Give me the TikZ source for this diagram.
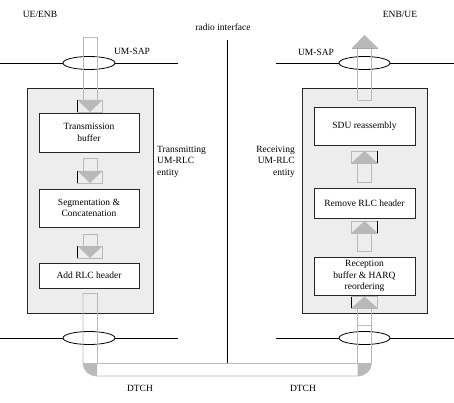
\documentclass[tikz,border=0pt]{standalone}
\usepackage{fontspec}
\setmainfont{Liberation Serif}
\usetikzlibrary{shapes.geometric}
\begin{document}
\begin{tikzpicture}[x=1pt,y=-1pt,
  txt/.style={font=\fontsize{9.5}{11.5}\selectfont, inner sep=0pt, align=center},
  outerbox/.style={draw=black!85, line width=0.9pt, fill=gray!14},
  procbox/.style={draw=black!85, line width=0.95pt, fill=white, txt, minimum width=100pt},
  sapline/.style={draw=black, line width=0.7pt},
  sapell/.style={draw=black, line width=0.8pt, fill=white, ellipse, inner sep=0pt},
  pipe/.style={draw=gray!55, line width=0.7pt},
  headfill/.style={fill=gray!55},
]
\useasboundingbox (0,0) rectangle (454,403);
\newcommand\dnarr[4]{%
  \draw[pipe] ({#1-7},#3) -- ({#1-7},#2) -- ({#1+7},#2) -- ({#1+7},#3);
  \draw[pipe] ({#1-12.5},#3) rectangle ({#1+12.5},#4);
  \fill[headfill] ({#1-12.5},#3) -- ({#1+12.5},#3) -- (#1,#4) -- cycle;
  \draw[black,line width=0.8pt] ({#1-12.5},#3) -- ({#1-12.5},#4);}
\newcommand\uparr[5]{%
  \draw[pipe] ({#1-7},#3) -- ({#1-7},#2) -- ({#1+7},#2) -- ({#1+7},#3);
  \draw[pipe] ({#1-13},#3) rectangle ({#1+13},#4);
  \fill[headfill] ({#1-13},#3) -- ({#1+13},#3) -- (#1,#4) -- cycle;
  \draw[black,line width=0.8pt] ({#1+#5*13},#3) -- ({#1+#5*13},#4);}

% headings
\node[txt] (ue) at (40,14) {UE/ENB};
\node[txt] (enb) at (400,14) {ENB/UE};
\node[txt] (radio) at (223,27) {radio interface};
\coordinate (rtop) at (227,40);
\coordinate (rbot) at (227,363);
\draw[black, line width=0.7pt] (rtop) -- (rbot);

% outer boxes
\draw[outerbox] (27,88) rectangle (153,313);
\draw[outerbox] (302,88) rectangle (427,313);

% SAP lines
\coordinate (l1a) at (0,63);   \coordinate (l1b) at (178,63);
\coordinate (r1a) at (276,63); \coordinate (r1b) at (454,63);
\coordinate (l2a) at (0,338);  \coordinate (l2b) at (178,338);
\coordinate (r2a) at (276,338);\coordinate (r2b) at (454,338);
\draw[sapline] (l1a) -- (l1b);
\draw[sapline] (r1a) -- (r1b);
\draw[sapline] (l2a) -- (l2b);
\draw[sapline] (r2a) -- (r2b);
\node[sapell, minimum width=52pt, minimum height=13pt] (e1) at (89,63) {};
\node[sapell, minimum width=51pt, minimum height=13pt] (e2) at (364.5,63) {};
\node[sapell, minimum width=52pt, minimum height=13pt] (e3) at (89,338) {};
\node[sapell, minimum width=51pt, minimum height=13pt] (e4) at (364.5,338) {};
\node[txt] (sap1) at (132,51) {UM-SAP};
\node[txt] (sap2) at (316,52) {UM-SAP};

% processing boxes
\node[procbox, minimum height=39pt] (tb) at (89,132.5) {Transmission\\buffer};
\node[procbox, minimum height=38pt] (seg) at (89,208) {Segmentation \&\\Concatenation};
\node[procbox, minimum height=25pt] (add) at (89,275.5) {Add RLC header};
\node[procbox, minimum width=101pt, minimum height=38pt] (sdu) at (364.5,126) {SDU reassembly};
\node[procbox, minimum width=101pt, minimum height=30pt] (rem) at (364.5,203) {Remove RLC header};
\node[procbox, minimum width=101pt, minimum height=38pt] (rec) at (364.5,276) {Reception\\buffer \& HARQ\\reordering};

% entity labels
\node[txt, anchor=north west, align=left] (tx) at (157,146) {Transmitting\\UM-RLC\\entity};
\node[txt, anchor=north east, align=right] (rx) at (295,146) {Receiving\\UM-RLC\\entity};

% block arrows (left, down)
\dnarr{90}{37}{100}{112}
\dnarr{90}{158}{171}{183}
\dnarr{90}{234}{246}{258}
% block arrows (right, up)
\uparr{364.5}{182}{163}{151}{1}
\uparr{364.5}{251}{233}{221}{1}
\uparr{364.5}{325}{308}{296.5}{-1}
% top output arrow
\draw[pipe] (357.5,100) -- (357.5,48) (371.5,48) -- (371.5,100) -- (357.5,100);
\fill[headfill] (352,48) -- (378,48) -- (364.5,35) -- cycle;
\draw[gray!70, line width=0.6pt] (352,48) -- (378,48);

% DTCH pipe
\fill[headfill] (83,363) -- (97,363) -- (97,376) arc[start angle=90, end angle=180, x radius=14, y radius=13] -- cycle;
\fill[headfill] (357.5,363) -- (371.5,363) arc[start angle=0, end angle=90, x radius=14, y radius=13] -- cycle;
\draw[pipe] (83,293) -- (97,293);
\draw[pipe] (83,293) -- (83,363) arc[start angle=180, end angle=90, x radius=14, y radius=13] -- (357.5,376)
  arc[start angle=90, end angle=0, x radius=14, y radius=13] -- (371.5,325);
\draw[pipe] (97,293) -- (97,363) -- (357.5,363) -- (357.5,325);
\node[txt] (dt1) at (140,388) {DTCH};
\node[txt] (dt2) at (303,388) {DTCH};
\end{tikzpicture}
\end{document}
